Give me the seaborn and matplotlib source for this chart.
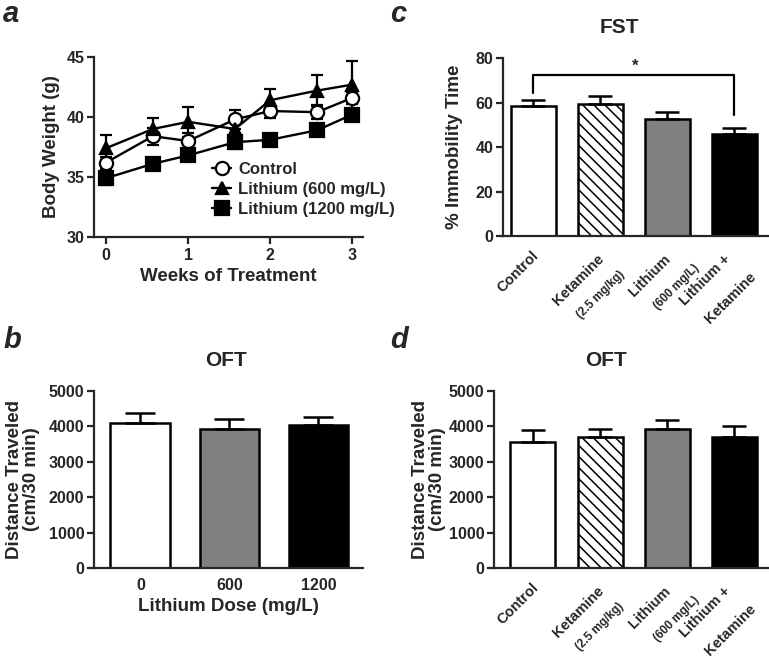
import numpy as np
import pandas as pd
import seaborn as sns
import matplotlib.pyplot as plt

# ---- data ----
weeks = [0, 0.571, 1, 1.571, 2, 2.571, 3]
bw_control = [36.2, 38.4, 38.0, 39.8, 40.5, 40.4, 41.6]
bw_control_se = [0.5, 0.7, 0.7, 0.8, 0.6, 0.6, 0.5]
bw_li600 = [37.4, 39.0, 39.6, 39.0, 41.4, 42.2, 42.7]
bw_li600_se = [1.1, 0.95, 1.25, 0.9, 0.9, 1.3, 2.0]
bw_li1200 = [34.9, 36.1, 36.8, 37.9, 38.1, 38.9, 40.2]
bw_li1200_se = [0.6, 0.4, 0.5, 0.6, 0.4, 0.4, 0.5]

dose_labels = ['0', '600', '1200']
oft_dose = [4110, 3940, 4040]
oft_dose_se = [280, 260, 235]

groups = ['Control', 'Ketamine', 'Lithium', 'Lithium +']
group_sub = ['', '(2.5 mg/kg)', '(600 mg/L)', 'Ketamine']
fst = [58.4, 59.3, 52.6, 45.9]
fst_se = [2.7, 3.6, 3.3, 2.6]
oft_combo = [3550, 3690, 3920, 3690]
oft_combo_se = [355, 250, 265, 320]

GREY = '#808080'

sns.set_style('ticks')
plt.rcParams['font.family'] = ['Liberation Sans', 'DejaVu Sans']
plt.rcParams['font.weight'] = 'bold'
plt.rcParams['axes.labelweight'] = 'bold'
plt.rcParams['axes.titleweight'] = 'bold'
plt.rcParams['axes.linewidth'] = 1.6
plt.rcParams['hatch.linewidth'] = 1.1

TICK = 11.5
LABEL = 13.5
TITLE = 15

W, H = 769, 659
fig = plt.figure(figsize=(W / 100, H / 100), dpi=100)


def px_axes(l, t, r, b):
    return fig.add_axes([l / W, 1 - b / H, (r - l) / W, (b - t) / H])


def style_axes(ax, xticks=True):
    sns.despine(ax=ax)
    ax.tick_params(axis='y', direction='out', length=5, width=1.6, labelsize=TICK, pad=2)
    if xticks:
        ax.tick_params(axis='x', direction='out', length=5, width=1.6, labelsize=TICK, pad=3)
    else:
        ax.tick_params(axis='x', length=0, labelsize=TICK, pad=7)
    for lab in ax.get_xticklabels() + ax.get_yticklabels():
        lab.set_fontweight('bold')


# ---- panel a: body weight ----
ax = px_axes(94, 57, 363, 237)
series = [
    ('Control', bw_control, bw_control_se, 'o', 'white', 9.5),
    ('Lithium (600 mg/L)', bw_li600, bw_li600_se, '^', 'black', 8.5),
    ('Lithium (1200 mg/L)', bw_li1200, bw_li1200_se, 's', 'black', 9.5),
]
for name, vals, se, mk, fc, ms in series:
    ax.errorbar(weeks, vals, yerr=se, fmt='none', ecolor='black',
                elinewidth=1.6, capsize=4.5, capthick=1.6, zorder=2)
    sns.lineplot(x=weeks, y=vals, ax=ax, color='black', linewidth=1.7,
                 marker=mk, markersize=ms, markerfacecolor=fc,
                 markeredgecolor='black', markeredgewidth=1.6, label=name, zorder=3)
ax.set_xlim(-0.146, 3.13)
ax.set_ylim(30, 45)
ax.set_xticks([0, 1, 2, 3])
ax.set_yticks([30, 35, 40, 45])
ax.set_xlabel('Weeks of Treatment', fontsize=LABEL)
ax.set_ylabel('Body Weight (g)', fontsize=LABEL)
ax.xaxis.set_label_coords(0.5, -0.17)
ax.yaxis.set_label_coords(-0.125, 0.5)
style_axes(ax)
leg = ax.legend(loc='upper left', bbox_to_anchor=(0.44, 0.415), frameon=False,
                borderpad=0, borderaxespad=0, handlelength=1.1, handletextpad=0.45,
                labelspacing=0.3, prop={'weight': 'bold', 'size': 12})


# ---- bar helpers ----
def bars(ax, labels, vals, se, colors, capsize):
    sns.barplot(x=labels, y=vals, hue=labels, palette=colors, legend=False,
                edgecolor='black', linewidth=1.8, width=0.67, ax=ax,
                saturation=1, zorder=2)
    ax.errorbar(range(len(vals)), vals, yerr=[[0] * len(vals), se], fmt='none',
                ecolor='black', elinewidth=1.8, capsize=capsize, capthick=1.8, zorder=3)


def group_labels(ax):
    ax.set_xticks(range(len(groups)))
    ax.set_xticklabels([''] * len(groups))
    big = [(-2, -12), (-3, -16), (-4, -16), (-11, -16)]
    small = [None, (18, -32), (26, -26), (14, -34)]
    for i, (g, s) in enumerate(zip(groups, group_sub)):
        dx, dy = big[i]
        ax.annotate(g, xy=(i, 0), xycoords=('data', 'axes fraction'),
                    xytext=(dx * 0.72, dy * 0.72), textcoords='offset points',
                    rotation=45, rotation_mode='anchor', ha='right', va='top',
                    fontsize=10.5, fontweight='bold')
        if s:
            dx, dy = small[i]
            ax.annotate(s, xy=(i, 0), xycoords=('data', 'axes fraction'),
                        xytext=(dx * 0.72, dy * 0.72), textcoords='offset points',
                        rotation=45, rotation_mode='anchor', ha='right', va='top',
                        fontsize=10.5 if i == 3 else 8.5, fontweight='bold')


combo_colors = ['white', 'white', GREY, 'black']

# ---- panel c: FST ----
ax = px_axes(503, 58, 768, 236)
bars(ax, groups, fst, fst_se, combo_colors, 8.3)
ax.patches[1].set_hatch('\\\\\\')
ax.set_xlim(-0.45, 3.5)
ax.set_ylim(0, 80)
ax.set_yticks([0, 20, 40, 60, 80])
ax.set_ylabel('% Immobility Time', fontsize=LABEL)
ax.yaxis.set_label_coords(-0.15, 0.5)
ax.set_title('FST', fontsize=TITLE, x=0.44, pad=18)
style_axes(ax, xticks=False)
group_labels(ax)
ax.plot([0, 0, 3, 3], [64.2, 72.5, 72.5, 54.5], color='black', linewidth=1.6, zorder=4)
ax.text(1.52, 76.2, '*', ha='center', va='center', fontsize=12, fontweight='bold')

# ---- panel b: OFT by dose ----
ax = px_axes(94, 391, 363, 568)
bars(ax, dose_labels, oft_dose, oft_dose_se, ['white', GREY, 'black'], 11)
ax.set_xlim(-0.52, 2.5)
ax.set_ylim(0, 5000)
ax.set_yticks(range(0, 5001, 1000))
ax.set_xlabel('Lithium Dose (mg/L)', fontsize=LABEL)
ax.set_ylabel('Distance Traveled\n(cm/30 min)', fontsize=LABEL, linespacing=1.0)
ax.xaxis.set_label_coords(0.5, -0.17)
ax.yaxis.set_label_coords(-0.2, 0.5)
ax.set_title('OFT', fontsize=TITLE, x=0.49, pad=18)
style_axes(ax, xticks=False)

# ---- panel d: OFT combos ----
ax = px_axes(494, 391, 768, 568)
bars(ax, groups, oft_combo, oft_combo_se, combo_colors, 8.3)
ax.patches[1].set_hatch('\\\\\\')
ax.set_xlim(-0.58, 3.5)
ax.set_ylim(0, 5000)
ax.set_yticks(range(0, 5001, 1000))
ax.set_ylabel('Distance Traveled\n(cm/30 min)', fontsize=LABEL, linespacing=1.0)
ax.yaxis.set_label_coords(-0.175, 0.5)
ax.set_title('OFT', fontsize=TITLE, x=0.41, pad=18)
style_axes(ax, xticks=False)
group_labels(ax)

# ---- panel letters ----
for txt, x, y in [('a', 3, 0), ('c', 390, 0), ('b', 3, 326), ('d', 390, 326)]:
    fig.text(x / W, 1 - y / H, txt, ha='left', va='top', fontsize=21,
             fontweight='bold', fontstyle='italic')

fig.savefig('out.png', dpi=100)
